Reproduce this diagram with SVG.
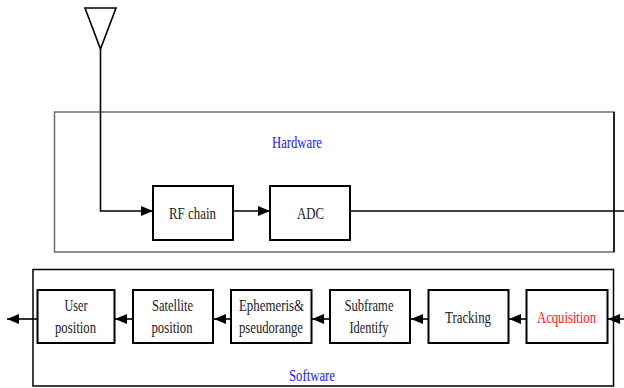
<svg xmlns="http://www.w3.org/2000/svg" width="624" height="388" viewBox="0 0 624 388">
<style>
.box{fill:#fff;stroke:#000;stroke-width:2}
.frame{fill:none;stroke:#000;stroke-width:1.5}
.line{fill:none;stroke:#000;stroke-width:1.6}
.t{font-family:"Liberation Serif","Times New Roman",serif;font-size:17px;fill:#222;text-anchor:middle}
.blue{fill:#2020ff}
.red{fill:#ff1a1a}
</style>
<defs>
<marker id="ah" markerUnits="userSpaceOnUse" markerWidth="12" markerHeight="10" refX="12" refY="5" orient="auto">
<path d="M0,0 L12,5 L0,10 z" fill="#000"/>
</marker>
</defs>

<g id="antenna">
<polygon points="85,8 116,8 100.5,49" fill="#fff" stroke="#000" stroke-width="1.6"/>
</g>

<g id="hardware">
<rect x="54.5" y="112" width="559.5" height="140" fill="none" stroke="#6e6e6e" stroke-width="1.5"/>
<line x1="614" y1="112" x2="614" y2="252" stroke="#000" stroke-width="1.5"/>
<text class="t blue" x="297" y="148" textLength="50" lengthAdjust="spacingAndGlyphs">Hardware</text>
</g>

<g id="software">
<rect class="frame" x="33" y="269.5" width="580.5" height="116.5"/>
<text class="t blue" x="312" y="381" textLength="46" lengthAdjust="spacingAndGlyphs">Software</text>
</g>

<g id="rfchain">
<rect class="box" x="153" y="186" width="80" height="54"/>
<text class="t" x="192.5" y="219" textLength="47" lengthAdjust="spacingAndGlyphs">RF chain</text>
</g>

<g id="adc">
<rect class="box" x="270" y="186" width="80" height="54"/>
<text class="t" x="310.5" y="219" textLength="27" lengthAdjust="spacingAndGlyphs">ADC</text>
</g>

<g id="user">
<rect class="box" x="37.5" y="290" width="77" height="53"/>
<text class="t" x="76" y="311" textLength="23" lengthAdjust="spacingAndGlyphs">User</text>
<text class="t" x="75.5" y="333" textLength="41" lengthAdjust="spacingAndGlyphs">position</text>
</g>

<g id="satellite">
<rect class="box" x="133" y="290" width="80" height="53"/>
<text class="t" x="172.5" y="311" textLength="41" lengthAdjust="spacingAndGlyphs">Satellite</text>
<text class="t" x="172" y="333" textLength="41" lengthAdjust="spacingAndGlyphs">position</text>
</g>

<g id="ephemeris">
<rect class="box" x="231" y="290" width="80.5" height="53"/>
<text class="t" x="271.5" y="311" textLength="65" lengthAdjust="spacingAndGlyphs">Ephemeris&amp;</text>
<text class="t" x="271" y="333" textLength="64" lengthAdjust="spacingAndGlyphs">pseudorange</text>
</g>

<g id="subframe">
<rect class="box" x="330" y="290" width="80" height="53"/>
<text class="t" x="369" y="311" textLength="49" lengthAdjust="spacingAndGlyphs">Subframe</text>
<text class="t" x="369" y="333" textLength="39" lengthAdjust="spacingAndGlyphs">Identify</text>
</g>

<g id="tracking">
<rect class="box" x="428.5" y="290" width="80" height="53"/>
<text class="t" x="468" y="323" textLength="46" lengthAdjust="spacingAndGlyphs">Tracking</text>
</g>

<g id="acquisition">
<rect class="box" x="526.5" y="290" width="81" height="53"/>
<text class="t red" x="566.5" y="323" textLength="59" lengthAdjust="spacingAndGlyphs">Acquisition</text>
</g>

<g id="connectors">
<path class="line" d="M100.5,49 V211 H153" marker-end="url(#ah)"/>
<path class="line" d="M233,211 H270" marker-end="url(#ah)"/>
<path class="line" d="M350,211 H624"/>
<path class="line" d="M624,319 H608" marker-end="url(#ah)"/>
<path class="line" d="M526.5,319 H509" marker-end="url(#ah)"/>
<path class="line" d="M428.5,319 H411" marker-end="url(#ah)"/>
<path class="line" d="M330,319 H312" marker-end="url(#ah)"/>
<path class="line" d="M231,319 H214" marker-end="url(#ah)"/>
<path class="line" d="M133,319 H115" marker-end="url(#ah)"/>
<path class="line" d="M37.5,319 H7" marker-end="url(#ah)"/>
</g>
</svg>
